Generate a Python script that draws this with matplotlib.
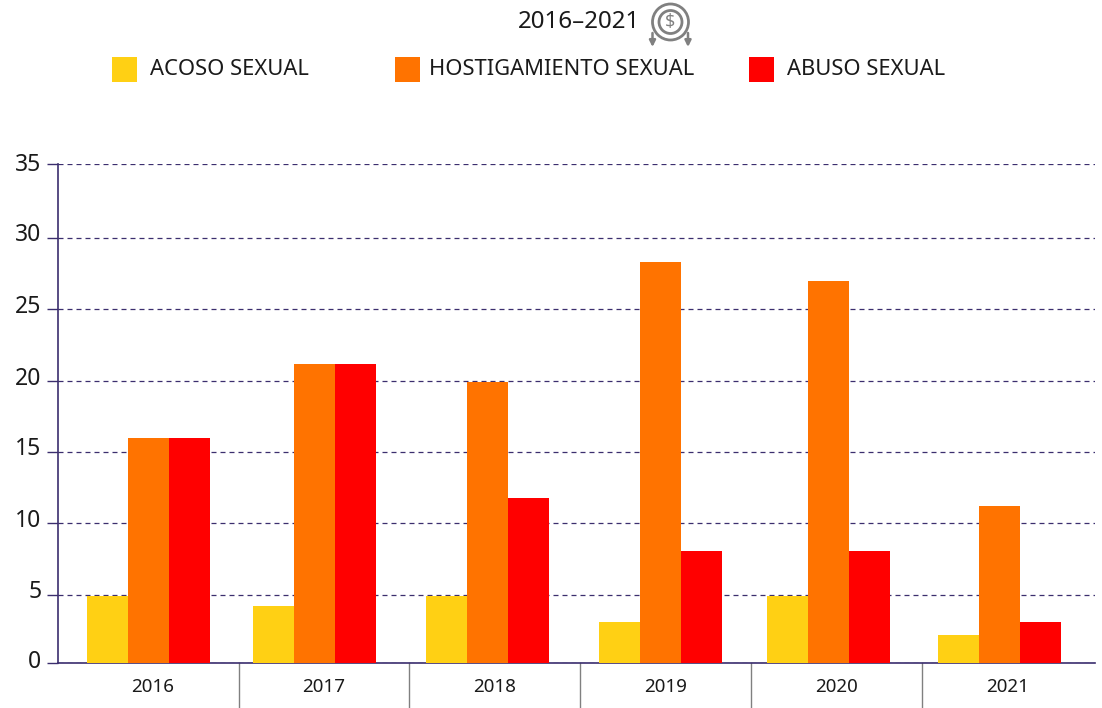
import numpy as np
import matplotlib
matplotlib.use('Agg')
import matplotlib.pyplot as plt
from matplotlib.patches import Circle, Rectangle
from matplotlib.transforms import ScaledTranslation

years = ['2016', '2017', '2018', '2019', '2020', '2021']
acoso = [4.9, 4.15, 4.9, 3.0, 4.9, 2.05]
hostigamiento = [16, 21.2, 19.9, 28.3, 27, 11.2]
abuso = [16, 21.2, 11.75, 8.05, 8.05, 3.0]
y_ticks = [0, 5, 10, 15, 20, 25, 30, 35]

YELLOW = '#FFD014'
ORANGE = '#FF7300'
RED = '#FF0000'
NAVY = '#3B2E6E'
GRAY = '#808080'
TEXT = '#1A1A1A'
FONT = 'Noto Sans'

# the gridlines in the original are not quite evenly spaced
tick_px = [0, 68.5, 140, 211, 282, 354, 425, 499]
def fwd(v):
    return np.interp(v, y_ticks, tick_px)
def inv(p):
    return np.interp(p, tick_px, y_ticks)

# bar groups sit a little left of the centre of their cell
group_shift = [-0.026, -0.056, -0.044, -0.032, -0.05, -0.05]
bar_w = 41 / 171
# tick labels float above their ticks, by px
label_lift = [4, 6, 5, 6, 5, 5, 6, 2]

fig = plt.figure(figsize=(11.02, 7.08), dpi=100)
ax = fig.add_axes([58 / 1102, 45 / 708, 1037 / 1102, 499 / 708])
ax.set_yscale('function', functions=(fwd, inv))
ax.set_xlim(-0.556, 5.51)
ax.set_ylim(0, 35)

x = np.arange(len(years))
centers = x + np.array(group_shift)
ax.bar(centers - bar_w, acoso, bar_w, color=YELLOW, zorder=3, clip_on=False)
ax.bar(centers, hostigamiento, bar_w, color=ORANGE, zorder=3, clip_on=False)
ax.bar(centers + bar_w, abuso, bar_w, color=RED, zorder=3, clip_on=False)

ax.yaxis.set_major_locator(plt.FixedLocator(y_ticks))
ax.yaxis.set_minor_locator(plt.NullLocator())
ax.set_yticklabels([str(t) for t in y_ticks], fontsize=16.5, color=TEXT, family=FONT)
ax.tick_params(axis='y', length=8, width=1, color=NAVY, pad=4)
ax.grid(axis='y', color=NAVY, linewidth=0.9, linestyle=(0, (4, 3.2)), zorder=1)
for label, lift in zip(ax.get_yticklabels(), label_lift):
    label.set_transform(label.get_transform() + ScaledTranslation(0, lift / 100, fig.dpi_scale_trans))

ax.set_xticks(x)
ax.set_xticklabels(years, fontsize=13.5, color=TEXT, family=FONT)
ax.tick_params(axis='x', length=0, pad=11)

for side in ['top', 'right']:
    ax.spines[side].set_visible(False)
for side in ['left', 'bottom']:
    ax.spines[side].set_color(NAVY)
    ax.spines[side].set_linewidth(1.2)

# cell separators under the axis
for i in x[:-1]:
    ax.plot([i + 0.5, i + 0.5], [-45 / 499, 0], transform=ax.get_xaxis_transform(),
            color=GRAY, linewidth=1, clip_on=False)

# overlay in pixel units for the header
top = fig.add_axes([0, 0, 1, 1], facecolor='none')
top.set_xlim(0, 1102)
top.set_ylim(708, 0)
top.axis('off')

top.text(579, 22, '2016–2021', fontsize=17.4, color=TEXT, family=FONT, ha='center', va='center')

legend_items = [(112, 150, 'ACOSO SEXUAL', YELLOW),
                (395, 429, 'HOSTIGAMIENTO SEXUAL', ORANGE),
                (749, 787, 'ABUSO SEXUAL', RED)]
for box_x, text_x, label, color in legend_items:
    top.add_patch(Rectangle((box_x, 57), 24.5, 24.5, color=color, linewidth=0))
    top.text(text_x, 69.5, label, fontsize=15.8, color=TEXT, family=FONT, va='center')

# coin icon
for r, lw in [(18, 2.0), (11.5, 2.0)]:
    top.add_patch(Circle((670.5, 22), r, fill=False, edgecolor=GRAY, linewidth=lw))
top.text(670.5, 22, '$', fontsize=13, color=GRAY, family=FONT, weight='bold',
         ha='center', va='center')
for arrow_x in [652.5, 688]:
    top.annotate('', xy=(arrow_x, 47), xytext=(arrow_x, 33),
                 arrowprops=dict(arrowstyle='-|>', color=GRAY, lw=1.8,
                                 mutation_scale=9, shrinkA=0, shrinkB=0))

fig.savefig('out.png', dpi=100)
